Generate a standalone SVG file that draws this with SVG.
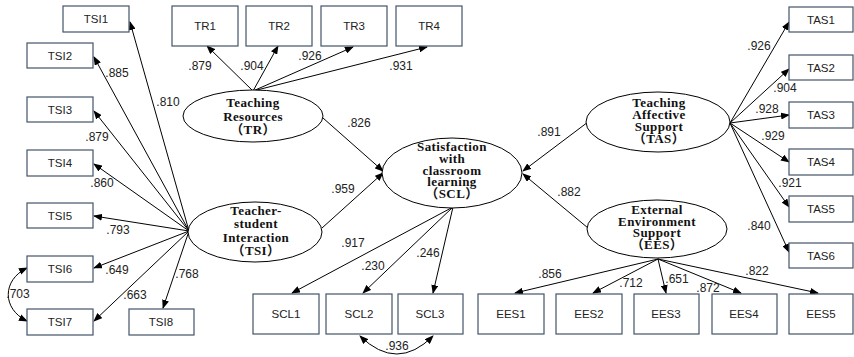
<svg xmlns="http://www.w3.org/2000/svg" width="854" height="357" viewBox="0 0 854 357">
<style>
.box{fill:#fff;stroke:#44546a;stroke-width:1.2}
.bt{font-family:"Liberation Sans",Arial,sans-serif;font-size:11.5px;fill:#222;text-anchor:middle}
.lat{fill:#fff;stroke:#000;stroke-width:1}
.lt{font-family:"Liberation Serif","Noto Sans CJK SC",serif;font-size:13px;letter-spacing:0.4px;font-weight:bold;fill:#111;text-anchor:middle}
.num{font-family:"Liberation Sans",Arial,sans-serif;font-size:12px;fill:#222;text-anchor:middle}
.c{stroke:#000;stroke-width:1;fill:none;marker-end:url(#ah)}
.cv{stroke:#000;stroke-width:1;fill:none;marker-end:url(#ah);marker-start:url(#as)}
</style>
<defs>
<marker id="ah" markerUnits="userSpaceOnUse" markerWidth="9" markerHeight="7" refX="8" refY="3.5" orient="auto"><path d="M0,0 L9,3.5 L0,7 z" fill="#000"/></marker>
<marker id="as" markerUnits="userSpaceOnUse" markerWidth="9" markerHeight="7" refX="8" refY="3.5" orient="auto-start-reverse"><path d="M0,0 L9,3.5 L0,7 z" fill="#000"/></marker>
</defs>
<rect width="854" height="357" fill="#fff"/>

<g id="connectors">
<line class="c" x1="189" y1="231" x2="130" y2="22"/>
<line class="c" x1="189" y1="231" x2="94" y2="57"/>
<line class="c" x1="189" y1="231" x2="94" y2="111"/>
<line class="c" x1="189" y1="231" x2="94" y2="164"/>
<line class="c" x1="189" y1="231" x2="94" y2="216"/>
<line class="c" x1="189" y1="231" x2="94" y2="268"/>
<line class="c" x1="189" y1="231" x2="94" y2="321"/>
<line class="c" x1="189" y1="231" x2="163" y2="308"/>
<path class="cv" d="M27,268 C2,280 2,309 27,321"/>
<line class="c" x1="253" y1="91" x2="207" y2="46"/>
<line class="c" x1="253" y1="91" x2="278" y2="46"/>
<line class="c" x1="253" y1="91" x2="353" y2="47"/>
<line class="c" x1="253" y1="91" x2="427" y2="47"/>
<line class="c" x1="323" y1="118" x2="383" y2="171"/>
<line class="c" x1="322" y1="228" x2="383" y2="173"/>
<line class="c" x1="588" y1="122" x2="523" y2="171"/>
<line class="c" x1="588" y1="228" x2="523" y2="174"/>
<line class="c" x1="453" y1="207" x2="292" y2="293"/>
<line class="c" x1="453" y1="207" x2="363" y2="293"/>
<line class="c" x1="453" y1="207" x2="433" y2="293"/>
<path class="cv" d="M360,336 Q397,372 433,336"/>
<line class="c" x1="658" y1="259" x2="515" y2="293"/>
<line class="c" x1="658" y1="259" x2="593" y2="293"/>
<line class="c" x1="658" y1="259" x2="666" y2="293"/>
<line class="c" x1="658" y1="259" x2="741" y2="293"/>
<line class="c" x1="658" y1="259" x2="818" y2="293"/>
<line class="c" x1="730" y1="123" x2="789" y2="22"/>
<line class="c" x1="730" y1="123" x2="789" y2="69"/>
<line class="c" x1="730" y1="123" x2="789" y2="115"/>
<line class="c" x1="730" y1="123" x2="789" y2="162"/>
<line class="c" x1="730" y1="123" x2="789" y2="207"/>
<line class="c" x1="730" y1="123" x2="789" y2="252"/>
</g>

<g id="TSI"><ellipse class="lat" cx="255" cy="232" rx="67" ry="30"/>
<text class="lt" x="256" y="215">Teacher-</text><text class="lt" x="256" y="228">student</text><text class="lt" x="256" y="242">Interaction</text><text class="lt" x="256" y="255">（TSI）</text></g>
<g id="TR"><ellipse class="lat" cx="253" cy="116" rx="70" ry="26"/>
<text class="lt" x="253" y="107">Teaching</text><text class="lt" x="253" y="121">Resources</text><text class="lt" x="253" y="134">（TR）</text></g>
<g id="SCL"><ellipse class="lat" cx="452" cy="173" rx="70" ry="35"/>
<text class="lt" x="452" y="151">Satisfaction</text><text class="lt" x="452" y="163">with</text><text class="lt" x="452" y="175">classroom</text><text class="lt" x="452" y="186">learning</text><text class="lt" x="452" y="198">（SCL）</text></g>
<g id="TAS"><ellipse class="lat" cx="658" cy="122" rx="72" ry="30"/>
<text class="lt" x="659" y="107">Teaching</text><text class="lt" x="659" y="119">Affective</text><text class="lt" x="659" y="131">Support</text><text class="lt" x="659" y="143">（TAS）</text></g>
<g id="EES"><ellipse class="lat" cx="657" cy="229" rx="70" ry="29"/>
<text class="lt" x="657" y="214">External</text><text class="lt" x="657" y="226">Environment</text><text class="lt" x="657" y="237">Support</text><text class="lt" x="657" y="249">（EES）</text></g>

<g id="TSI1"><rect class="box" x="63" y="6" width="66" height="26"/><text class="bt" x="96" y="23">TSI1</text></g>
<g id="TSI2"><rect class="box" x="27" y="43" width="66" height="25"/><text class="bt" x="60" y="60">TSI2</text></g>
<g id="TSI3"><rect class="box" x="27" y="97" width="66" height="25"/><text class="bt" x="60" y="114">TSI3</text></g>
<g id="TSI4"><rect class="box" x="27" y="150" width="66" height="26"/><text class="bt" x="60" y="167">TSI4</text></g>
<g id="TSI5"><rect class="box" x="27" y="203" width="66" height="25"/><text class="bt" x="60" y="220">TSI5</text></g>
<g id="TSI6"><rect class="box" x="27" y="256" width="66" height="26"/><text class="bt" x="60" y="273">TSI6</text></g>
<g id="TSI7"><rect class="box" x="27" y="309" width="66" height="26"/><text class="bt" x="60" y="326">TSI7</text></g>
<g id="TSI8"><rect class="box" x="129" y="309" width="65" height="26"/><text class="bt" x="161" y="326">TSI8</text></g>

<g id="TR1"><rect class="box" x="172" y="6" width="66" height="40"/><text class="bt" x="205" y="30">TR1</text></g>
<g id="TR2"><rect class="box" x="246" y="6" width="66" height="40"/><text class="bt" x="279" y="30">TR2</text></g>
<g id="TR3"><rect class="box" x="321" y="6" width="66" height="40"/><text class="bt" x="354" y="30">TR3</text></g>
<g id="TR4"><rect class="box" x="396" y="6" width="66" height="40"/><text class="bt" x="429" y="30">TR4</text></g>

<g id="SCL1"><rect class="box" x="253" y="294" width="66" height="40"/><text class="bt" x="286" y="318">SCL1</text></g>
<g id="SCL2"><rect class="box" x="326" y="294" width="66" height="40"/><text class="bt" x="359" y="318">SCL2</text></g>
<g id="SCL3"><rect class="box" x="398" y="294" width="65" height="40"/><text class="bt" x="430" y="318">SCL3</text></g>

<g id="EES1"><rect class="box" x="478" y="294" width="66" height="40"/><text class="bt" x="511" y="318">EES1</text></g>
<g id="EES2"><rect class="box" x="556" y="294" width="66" height="40"/><text class="bt" x="589" y="318">EES2</text></g>
<g id="EES3"><rect class="box" x="634" y="294" width="65" height="40"/><text class="bt" x="666" y="318">EES3</text></g>
<g id="EES4"><rect class="box" x="712" y="294" width="65" height="40"/><text class="bt" x="744" y="318">EES4</text></g>
<g id="EES5"><rect class="box" x="789" y="294" width="64" height="40"/><text class="bt" x="821" y="318">EES5</text></g>

<g id="TAS1"><rect class="box" x="789" y="7" width="64" height="25"/><text class="bt" x="821" y="24">TAS1</text></g>
<g id="TAS2"><rect class="box" x="789" y="55" width="64" height="25"/><text class="bt" x="821" y="72">TAS2</text></g>
<g id="TAS3"><rect class="box" x="789" y="102" width="64" height="26"/><text class="bt" x="821" y="119">TAS3</text></g>
<g id="TAS4"><rect class="box" x="789" y="149" width="64" height="26"/><text class="bt" x="821" y="166">TAS4</text></g>
<g id="TAS5"><rect class="box" x="789" y="196" width="64" height="26"/><text class="bt" x="821" y="213">TAS5</text></g>
<g id="TAS6"><rect class="box" x="789" y="243" width="64" height="25"/><text class="bt" x="821" y="260">TAS6</text></g>

<g id="labels">
<text class="num" x="117" y="77">.885</text>
<text class="num" x="168" y="106">.810</text>
<text class="num" x="97" y="141">.879</text>
<text class="num" x="102" y="187">.860</text>
<text class="num" x="118" y="234">.793</text>
<text class="num" x="117" y="274">.649</text>
<text class="num" x="135" y="299">.663</text>
<text class="num" x="187" y="278">.768</text>
<text class="num" x="18" y="298">.703</text>
<text class="num" x="200" y="70">.879</text>
<text class="num" x="252" y="70">.904</text>
<text class="num" x="310" y="60">.926</text>
<text class="num" x="401" y="70">.931</text>
<text class="num" x="359" y="127">.826</text>
<text class="num" x="343" y="193">.959</text>
<text class="num" x="549" y="136">.891</text>
<text class="num" x="569" y="196">.882</text>
<text class="num" x="353" y="247">.917</text>
<text class="num" x="373" y="270">.230</text>
<text class="num" x="428" y="257">.246</text>
<text class="num" x="397" y="350">.936</text>
<text class="num" x="550" y="278">.856</text>
<text class="num" x="631" y="287">.712</text>
<text class="num" x="677" y="283">.651</text>
<text class="num" x="708" y="292">.872</text>
<text class="num" x="757" y="275">.822</text>
<text class="num" x="759" y="50">.926</text>
<text class="num" x="785" y="92">.904</text>
<text class="num" x="767" y="113">.928</text>
<text class="num" x="773" y="140">.929</text>
<text class="num" x="790" y="187">.921</text>
<text class="num" x="759" y="230">.840</text>
</g>
</svg>
